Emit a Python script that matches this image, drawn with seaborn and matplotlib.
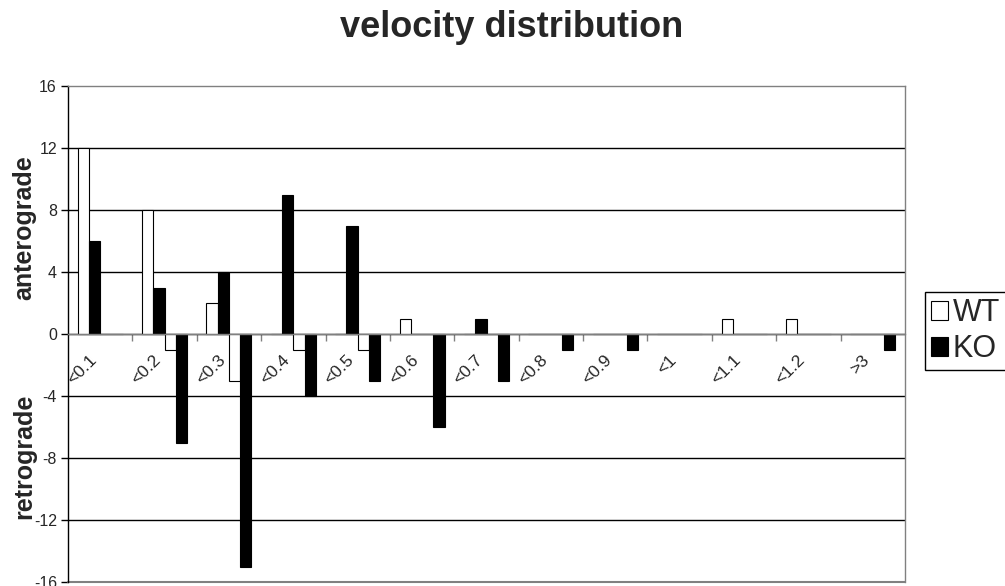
import numpy as np
import pandas as pd
import matplotlib
matplotlib.use("Agg")
import matplotlib.pyplot as plt
import matplotlib.transforms as mtransforms
from matplotlib.patches import Patch
from matplotlib.ticker import FixedLocator
import seaborn as sns

# Velocity bins and counts per series (retrograde counts are negative)
categories = ["<0.1", "<0.2", "<0.3", "<0.4", "<0.5", "<0.6", "<0.7",
              "<0.8", "<0.9", "<1", "<1.1", "<1.2", ">3"]
wt_anterograde = [12, 8, 2, 0, 0, 1, 0, 0, 0, 0, 1, 1, 0]
ko_anterograde = [6, 3, 4, 9, 7, 0, 1, 0, 0, 0, 0, 0, 0]
wt_retrograde = [0, -1, -3, -1, -1, 0, 0, 0, 0, 0, 0, 0, 0]
ko_retrograde = [0, -7, -15, -4, -3, -6, -3, -1, -1, 0, 0, 0, -1]
series_names = ["WT anterograde", "KO anterograde", "WT retrograde", "KO retrograde"]
series_colors = ["white", "black", "white", "black"]
legend_labels = ["WT", "KO"]
legend_colors = ["white", "black"]
y_ticks = list(range(-16, 17, 4))

sns.set_theme(style="white")
plt.rcParams["font.family"] = ["Liberation Sans", "DejaVu Sans"]
plt.rcParams["axes.unicode_minus"] = False

df = pd.DataFrame({
    "category": np.tile(categories, len(series_names)),
    "series": np.repeat(series_names, len(categories)),
    "count": np.concatenate([wt_anterograde, ko_anterograde,
                             wt_retrograde, ko_retrograde]),
})

fig = plt.figure(figsize=(10.05, 5.86), dpi=100)
ax = fig.add_axes([68 / 1005, 4 / 586, 837 / 1005, 496 / 586])

sns.barplot(data=df, x="category", y="count", hue="series",
            order=categories, hue_order=series_names,
            palette=dict(zip(series_names, series_colors)),
            width=0.7, gap=0, saturation=1, errorbar=None,
            edgecolor="black", linewidth=0.8, legend=False, ax=ax)

grey = "#808080"
ax.set_xlim(-0.5, len(categories) - 0.5)
ax.set_ylim(y_ticks[0], y_ticks[-1])
ax.set_yticks(y_ticks)
ax.set_yticklabels([str(t) for t in y_ticks],
                   family=["Liberation Sans Narrow", "Liberation Sans"], fontsize=11.5)
ax.set_xlabel("")
ax.set_ylabel("")

# horizontal gridlines between the frame edges
ax.set_axisbelow(True)
ax.yaxis.grid(True, color="black", linewidth=1.0)
gls = ax.yaxis.get_gridlines()
gls[0].set_visible(False)
gls[-1].set_visible(False)

# category axis sits on the zero line
ax.spines["bottom"].set_position(("data", 0))
ax.spines["bottom"].set_color(grey)
ax.spines["top"].set_color(grey)
ax.spines["right"].set_color(grey)
ax.spines["left"].set_color("black")
for s in ax.spines.values():
    s.set_linewidth(1.0)
ax.axhline(ax.get_ylim()[0], color=grey, linewidth=1.5, clip_on=False)

ax.xaxis.set_minor_locator(FixedLocator(np.arange(0.5, len(categories) - 1, 1.0)))
ax.tick_params(axis="x", which="minor", bottom=True, length=5, width=1,
               color=grey, direction="out")
ax.tick_params(axis="x", which="major", length=0, pad=17)
ax.tick_params(axis="y", which="major", left=True, length=5, width=1,
               color="black", direction="out", pad=3)

shift = mtransforms.ScaledTranslation(-6 / 100, 0, fig.dpi_scale_trans)
for lbl in ax.get_xticklabels():
    lbl.set_rotation(45)
    lbl.set_rotation_mode("anchor")
    lbl.set_ha("right")
    lbl.set_va("center")
    lbl.set_fontsize(12.5)
    lbl.set_transform(lbl.get_transform() + shift)

fig.text(512 / 1005, 1 - 37 / 586, "velocity distribution",
         ha="center", va="baseline", fontsize=26, fontweight="bold")
fig.text(24 / 1005, 1 - 228 / 586, "anterograde", rotation=90,
         ha="center", va="center", fontsize=18, fontweight="bold")
fig.text(24 / 1005, 1 - 456 / 586, "retrograde", rotation=90,
         ha="center", va="center", fontsize=18, fontweight="bold")

handles = [Patch(facecolor=c, edgecolor="black", linewidth=0.8) for c in legend_colors]
leg = fig.legend(handles, legend_labels, loc="upper left",
                 bbox_to_anchor=(925 / 1005, 1 - 292 / 586),
                 bbox_transform=fig.transFigure, frameon=True, fancybox=False,
                 shadow=False, framealpha=1, edgecolor="black",
                 fontsize=22, handlelength=0.55, handleheight=0.6,
                 handletextpad=0.15, borderpad=0.2, labelspacing=0.2,
                 borderaxespad=0)
leg.get_frame().set_linewidth(1.0)

fig.savefig("out.png", dpi=100)
